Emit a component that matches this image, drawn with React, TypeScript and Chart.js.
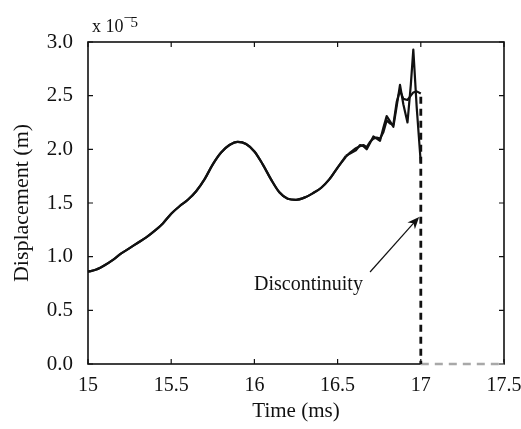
import { useEffect, useRef } from "react";
import { Chart, registerables } from "chart.js";

Chart.register(...registerables);

// ---- data ----
const timeMs = [
  15.0, 15.05, 15.1, 15.15, 15.2, 15.25, 15.3, 15.35, 15.4, 15.45,
  15.5, 15.55, 15.6, 15.65, 15.7, 15.75, 15.8, 15.85, 15.9, 15.95,
  16.0, 16.05, 16.1, 16.15, 16.2, 16.25, 16.3, 16.35, 16.4, 16.45,
  16.5, 16.55, 16.575, 16.61, 16.635, 16.655, 16.675, 16.695, 16.715, 16.735,
  16.755, 16.775, 16.795, 16.815, 16.835, 16.855, 16.875, 16.895, 16.92, 16.94,
  16.955, 16.975, 17.0,
];
const dispA = [
  0.86, 0.88, 0.92, 0.97, 1.03, 1.08, 1.13, 1.18, 1.24, 1.31,
  1.4, 1.47, 1.53, 1.61, 1.72, 1.86, 1.97, 2.04, 2.07, 2.05,
  1.98, 1.86, 1.72, 1.6, 1.54, 1.53, 1.55, 1.59, 1.64, 1.72,
  1.83, 1.94, 1.96, 1.99, 2.04, 2.03, 2.0, 2.06, 2.12, 2.1,
  2.08, 2.2, 2.31, 2.26, 2.21, 2.4, 2.6, 2.42, 2.25, 2.6,
  2.93, 2.4, 1.87,
];
const dispB = [
  0.86, 0.88, 0.92, 0.97, 1.03, 1.08, 1.13, 1.18, 1.24, 1.31,
  1.4, 1.47, 1.53, 1.61, 1.72, 1.86, 1.97, 2.04, 2.07, 2.05,
  1.98, 1.86, 1.72, 1.6, 1.54, 1.53, 1.55, 1.59, 1.64, 1.72,
  1.83, 1.93, 1.97, 2.01, 2.03, 2.04, 2.02, 2.07, 2.1, 2.11,
  2.1, 2.16, 2.27, 2.24, 2.23, 2.44, 2.55, 2.47, 2.46, 2.5,
  2.53, 2.54, 2.52,
];
// index where the response turns noisy (drawn without smoothing from here on)
const noisyFrom = 31;
const jumpTime = [17.0, 17.0];
const jumpDisp = [2.49, 0.0];
const tailTime = [17.0, 17.5];
const tailDisp = [0.0, 0.0];

const xTicks = [15, 15.5, 16, 16.5, 17, 17.5];
const yTicks = [0, 0.5, 1, 1.5, 2, 2.5, 3];

const annotText = "Discontinuity";
const annotTextAt = { x: 16.325, y: 0.736 };
const arrowFrom = { x: 16.695, y: 0.857 };
const arrowTo = { x: 16.99, y: 1.37 };
const exponentBase = "x 10";
const exponentPower = "5";

const FONT = '"Liberation Serif", "Times New Roman", serif';

const pts = (xs: number[], ys: number[]) => xs.map((x, i) => ({ x, y: ys[i] }));

const framePlugin = {
  id: "frameAndNotes",
  beforeDatasetsDraw(chart: any) {
    const { ctx, chartArea: a } = chart;
    ctx.save();
    ctx.strokeStyle = "#111";
    ctx.lineWidth = 1.6;
    ctx.strokeRect(a.left, a.top, a.right - a.left, a.bottom - a.top);
    ctx.restore();
  },
  afterDraw(chart: any) {
    const { ctx, chartArea: a, scales } = chart;
    const xs = scales.x;
    const ys = scales.y;
    ctx.save();
    // inward ticks on all four sides
    ctx.strokeStyle = "#111";
    ctx.lineWidth = 1.2;
    const tl = 5;
    ctx.beginPath();
    for (const v of xTicks) {
      const px = xs.getPixelForValue(v);
      ctx.moveTo(px, a.bottom);
      ctx.lineTo(px, a.bottom - tl);
      ctx.moveTo(px, a.top);
      ctx.lineTo(px, a.top + tl);
    }
    for (const v of yTicks) {
      const py = ys.getPixelForValue(v);
      ctx.moveTo(a.left, py);
      ctx.lineTo(a.left + tl, py);
      ctx.moveTo(a.right, py);
      ctx.lineTo(a.right - tl, py);
    }
    ctx.stroke();

    // exponent label
    ctx.fillStyle = "#111";
    ctx.font = `18px ${FONT}`;
    ctx.textAlign = "left";
    ctx.textBaseline = "alphabetic";
    const bx = a.left + 4;
    ctx.fillText(exponentBase, bx, a.top - 10);
    const w = ctx.measureText(exponentBase).width;
    ctx.font = `15px ${FONT}`;
    ctx.fillText("\u2013", bx + w + 1, a.top - 21);
    ctx.fillText(exponentPower, bx + w + 7, a.top - 15);

    // annotation text
    ctx.font = `20px ${FONT}`;
    ctx.textAlign = "center";
    ctx.textBaseline = "middle";
    ctx.fillText(annotText, xs.getPixelForValue(annotTextAt.x), ys.getPixelForValue(annotTextAt.y));

    // arrow
    const x0 = xs.getPixelForValue(arrowFrom.x);
    const y0 = ys.getPixelForValue(arrowFrom.y);
    const x1 = xs.getPixelForValue(arrowTo.x);
    const y1 = ys.getPixelForValue(arrowTo.y);
    const ang = Math.atan2(y1 - y0, x1 - x0);
    const hl = 12;
    const hw = 5;
    ctx.lineWidth = 1.2;
    ctx.beginPath();
    ctx.moveTo(x0, y0);
    ctx.lineTo(x1 - Math.cos(ang) * 6, y1 - Math.sin(ang) * 6);
    ctx.stroke();
    const bxh = x1 - Math.cos(ang) * hl;
    const byh = y1 - Math.sin(ang) * hl;
    const nx = -Math.sin(ang);
    const ny = Math.cos(ang);
    const mx = x1 - Math.cos(ang) * hl * 0.7;
    const my = y1 - Math.sin(ang) * hl * 0.7;
    ctx.beginPath();
    ctx.moveTo(x1, y1);
    ctx.lineTo(bxh + nx * hw, byh + ny * hw);
    ctx.lineTo(mx, my);
    ctx.lineTo(bxh - nx * hw, byh - ny * hw);
    ctx.closePath();
    ctx.fill();
    ctx.restore();
  },
};

const smoothLine = (ys: number[]) => ({
  data: pts(timeMs.slice(0, noisyFrom + 1), ys.slice(0, noisyFrom + 1)),
  borderColor: "#111",
  borderWidth: 2.2,
  pointRadius: 0,
  cubicInterpolationMode: "monotone",
  clip: false,
});
const noisyLine = (ys: number[]) => ({
  data: pts(timeMs.slice(noisyFrom), ys.slice(noisyFrom)),
  borderColor: "#111",
  borderWidth: 2.2,
  pointRadius: 0,
  tension: 0,
  borderJoinStyle: "round",
  clip: false,
});

export default function App() {
  const ref = useRef<HTMLCanvasElement | null>(null);
  useEffect(() => {
    document.body.style.margin = "0";
    if (!ref.current) return;
    const chart = new Chart(ref.current, {
      type: "line",
      data: {
        datasets: [
          smoothLine(dispB),
          noisyLine(dispB),
          smoothLine(dispA),
          noisyLine(dispA),
          {
            data: pts(jumpTime, jumpDisp),
            borderColor: "#111",
            borderWidth: 2.8,
            borderDash: [7, 5],
            pointRadius: 0,
            clip: false,
          },
          {
            data: pts(tailTime, tailDisp),
            borderColor: "#a8a8a8",
            borderWidth: 2.6,
            borderDash: [8, 6],
            pointRadius: 0,
            clip: false,
          },
          {
            data: pts(tailTime, tailDisp),
            borderColor: "#ffffff",
            borderWidth: 3,
            pointRadius: 0,
            clip: false,
          },
        ],
      } as any,
      options: {
        animation: false,
        responsive: false,
        maintainAspectRatio: false,
        layout: { padding: { left: 0, right: 17, top: 42, bottom: 0 } },
        plugins: {
          legend: { display: false },
          tooltip: { enabled: false },
        },
        scales: {
          x: {
            type: "linear",
            min: 15,
            max: 17.5,
            grid: { display: false },
            border: { display: false },
            afterBuildTicks: (s: any) => {
              s.ticks = xTicks.map((v) => ({ value: v }));
            },
            afterFit: (s: any) => {
              s.height = 65;
              s.paddingLeft = 0;
              s.paddingRight = 0;
            },
            ticks: {
              color: "#111",
              padding: 2,
              maxRotation: 0,
              font: { family: FONT, size: 20 },
              callback: (v: any) => String(v),
            },
            title: {
              display: true,
              text: "Time (ms)",
              color: "#111",
              font: { family: FONT, size: 21 },
              padding: { top: 0, bottom: 5 },
            },
          },
          y: {
            type: "linear",
            min: 0,
            max: 3,
            grid: { display: false },
            border: { display: false },
            afterBuildTicks: (s: any) => {
              s.ticks = yTicks.map((v) => ({ value: v }));
            },
            afterFit: (s: any) => {
              s.width = 88;
              s.paddingTop = 0;
              s.paddingBottom = 0;
            },
            ticks: {
              color: "#111",
              padding: 7,
              font: { family: FONT, size: 21 },
              callback: (v: any) => Number(v).toFixed(1),
            },
            title: {
              display: true,
              text: "Displacement (m)",
              color: "#111",
              font: { family: FONT, size: 22 },
              padding: { top: 9, bottom: 0 },
            },
          },
        },
      },
      plugins: [framePlugin],
    });
    return () => chart.destroy();
  }, []);
  return (
    <div style={{ width: 521, height: 429 }}>
      <canvas ref={ref} width={521} height={429} style={{ display: "block" }} />
    </div>
  );
}
